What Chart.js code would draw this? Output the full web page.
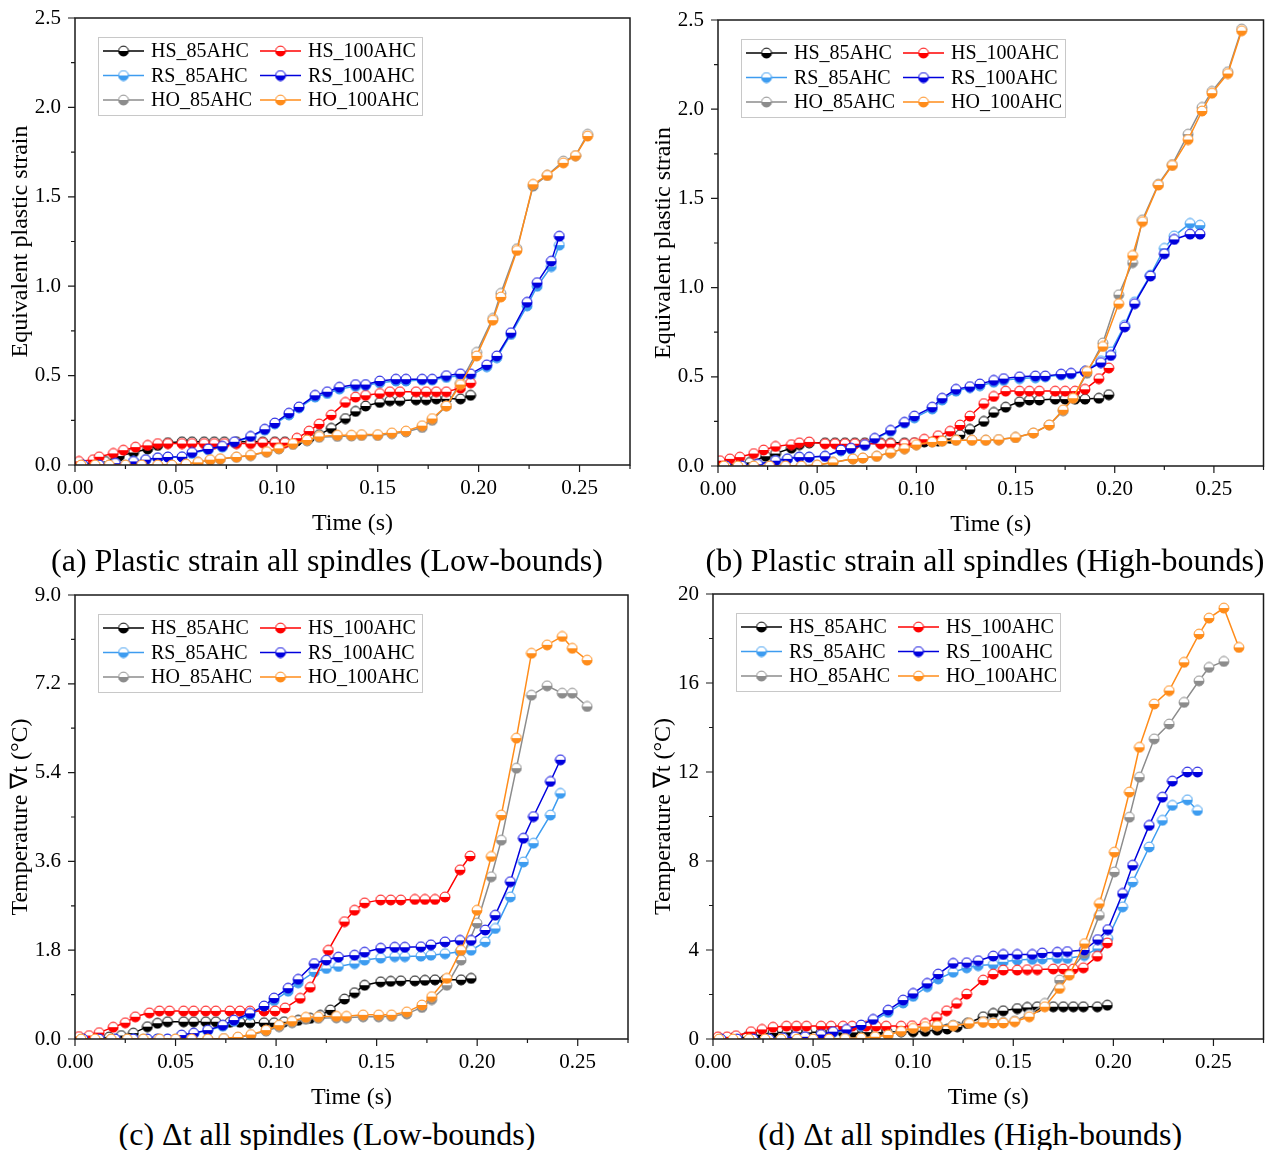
<!DOCTYPE html>
<html>
<head>
<meta charset="utf-8">
<script src="https://cdn.jsdelivr.net/npm/chart.js@4.4.1/dist/chart.umd.min.js"></script>
<style>
  body { margin: 0; background: #fff; width: 1271px; height: 1150px; position: relative; overflow: hidden; font-family: "Liberation Serif", "Times New Roman", serif; }
  canvas { position: absolute; }
  .cap { position: absolute; font-size: 32px; white-space: nowrap; transform: translate(-50%, -50%); color: #000; }
</style>
</head>
<body>
<canvas id="chartA" width="640" height="540" style="left:0;top:0"></canvas>
<canvas id="chartB" width="628" height="541" style="left:643px;top:0"></canvas>
<canvas id="chartC" width="640" height="537" style="left:0;top:577px"></canvas>
<canvas id="chartD" width="628" height="537" style="left:643px;top:577px"></canvas>
<div class="cap" style="left:327px;top:560px">(a) Plastic strain all spindles (Low-bounds)</div>
<div class="cap" style="left:985px;top:560px">(b) Plastic strain all spindles (High-bounds)</div>
<div class="cap" style="left:327px;top:1134px">(c) Δt all spindles (Low-bounds)</div>
<div class="cap" style="left:970px;top:1134px">(d) Δt all spindles (High-bounds)</div>

<script>
// series names / colours, same for every panel
const seriesNames = ['HS_85AHC', 'HS_100AHC', 'RS_85AHC', 'RS_100AHC', 'HO_85AHC', 'HO_100AHC'];
const seriesColors = ['#000000', '#ff0000', '#3d9cf0', '#0000dd', '#8c8c8c', '#ff8c1a'];

const timeTicks = [0, 0.05, 0.10, 0.15, 0.20, 0.25];
const strainTicks = [0, 0.5, 1.0, 1.5, 2.0, 2.5];
const tempTicksLow = [0, 1.8, 3.6, 5.4, 7.2, 9.0];
const tempTicksHigh = [0, 4, 8, 12, 16, 20];

// (a) plastic strain, low bounds  [time, value]
const a_HS85 = [[0.003,0.0],[0.009,0.01],[0.015,0.02],[0.022,0.05],[0.029,0.07],[0.036,0.09],[0.041,0.11],[0.046,0.125],[0.053,0.13],[0.058,0.13],[0.064,0.13],[0.069,0.13],[0.074,0.13],[0.080,0.13],[0.087,0.13],[0.093,0.13],[0.099,0.13],[0.104,0.13],[0.110,0.135],[0.116,0.15],[0.121,0.17],[0.127,0.205],[0.134,0.26],[0.139,0.30],[0.144,0.33],[0.151,0.35],[0.156,0.36],[0.161,0.36],[0.169,0.365],[0.174,0.365],[0.179,0.37],[0.184,0.37],[0.191,0.37],[0.196,0.39]];
const a_HS100 = [[0.002,0.02],[0.009,0.03],[0.012,0.046],[0.019,0.065],[0.024,0.083],[0.030,0.10],[0.036,0.11],[0.041,0.12],[0.046,0.12],[0.053,0.12],[0.058,0.12],[0.064,0.12],[0.069,0.12],[0.074,0.12],[0.080,0.12],[0.087,0.12],[0.093,0.125],[0.099,0.125],[0.104,0.125],[0.110,0.15],[0.116,0.19],[0.121,0.23],[0.127,0.28],[0.134,0.35],[0.139,0.38],[0.144,0.39],[0.151,0.40],[0.156,0.41],[0.161,0.41],[0.169,0.41],[0.174,0.41],[0.179,0.41],[0.184,0.41],[0.191,0.43],[0.196,0.46]];
const a_RS85 = [[0.004,0.0],[0.012,0.0],[0.020,0.01],[0.029,0.02],[0.035,0.03],[0.041,0.04],[0.046,0.045],[0.053,0.045],[0.058,0.065],[0.066,0.085],[0.073,0.10],[0.079,0.125],[0.087,0.155],[0.094,0.195],[0.099,0.23],[0.106,0.28],[0.111,0.32],[0.119,0.38],[0.125,0.40],[0.131,0.425],[0.139,0.44],[0.144,0.445],[0.151,0.46],[0.159,0.47],[0.164,0.47],[0.172,0.475],[0.177,0.475],[0.184,0.49],[0.191,0.50],[0.196,0.50],[0.204,0.55],[0.209,0.60],[0.216,0.73],[0.224,0.89],[0.229,1.00],[0.236,1.11],[0.240,1.23]];
const a_RS100 = [[0.004,0.0],[0.012,0.0],[0.020,0.01],[0.029,0.02],[0.035,0.03],[0.041,0.04],[0.046,0.045],[0.053,0.046],[0.058,0.07],[0.066,0.09],[0.073,0.105],[0.079,0.13],[0.087,0.16],[0.094,0.20],[0.099,0.235],[0.106,0.29],[0.111,0.325],[0.119,0.39],[0.125,0.41],[0.131,0.435],[0.139,0.45],[0.144,0.45],[0.151,0.47],[0.159,0.48],[0.164,0.48],[0.172,0.48],[0.177,0.48],[0.184,0.50],[0.191,0.51],[0.196,0.51],[0.204,0.56],[0.209,0.61],[0.216,0.74],[0.224,0.91],[0.229,1.02],[0.236,1.14],[0.240,1.28]];
const a_HO85 = [[0.003,0.0],[0.010,0.0],[0.017,0.0],[0.025,0.0],[0.033,0.0],[0.041,0.0],[0.048,0.0],[0.055,0.005],[0.061,0.015],[0.067,0.028],[0.072,0.033],[0.080,0.043],[0.087,0.053],[0.095,0.072],[0.101,0.09],[0.108,0.115],[0.115,0.135],[0.121,0.155],[0.130,0.16],[0.137,0.162],[0.142,0.165],[0.150,0.165],[0.157,0.175],[0.164,0.185],[0.172,0.21],[0.177,0.25],[0.184,0.33],[0.191,0.46],[0.199,0.63],[0.207,0.82],[0.211,0.96],[0.219,1.21],[0.227,1.56],[0.234,1.62],[0.242,1.70],[0.248,1.73],[0.254,1.85]];
const a_HO100 = [[0.003,0.0],[0.010,0.0],[0.017,0.0],[0.025,0.0],[0.033,0.0],[0.041,0.0],[0.048,0.0],[0.055,0.005],[0.061,0.015],[0.067,0.03],[0.072,0.035],[0.080,0.045],[0.087,0.055],[0.095,0.075],[0.101,0.093],[0.108,0.12],[0.115,0.14],[0.121,0.16],[0.130,0.167],[0.137,0.167],[0.142,0.17],[0.150,0.17],[0.157,0.18],[0.164,0.19],[0.172,0.22],[0.177,0.26],[0.184,0.33],[0.191,0.45],[0.199,0.61],[0.207,0.81],[0.211,0.94],[0.219,1.20],[0.227,1.57],[0.234,1.62],[0.242,1.69],[0.248,1.73],[0.254,1.84]];

// (b) plastic strain, high bounds
const b_HS85 = [[0.003,0.0],[0.009,0.01],[0.016,0.02],[0.024,0.055],[0.029,0.07],[0.037,0.10],[0.041,0.12],[0.046,0.13],[0.054,0.13],[0.059,0.13],[0.064,0.13],[0.069,0.13],[0.074,0.13],[0.082,0.13],[0.087,0.13],[0.094,0.13],[0.099,0.13],[0.104,0.135],[0.111,0.14],[0.117,0.155],[0.122,0.175],[0.127,0.205],[0.134,0.25],[0.139,0.30],[0.145,0.33],[0.152,0.36],[0.157,0.37],[0.162,0.37],[0.170,0.375],[0.175,0.375],[0.180,0.375],[0.185,0.375],[0.192,0.38],[0.197,0.40]];
const b_HS100 = [[0.001,0.03],[0.006,0.04],[0.011,0.05],[0.018,0.07],[0.023,0.09],[0.029,0.11],[0.037,0.12],[0.041,0.13],[0.046,0.135],[0.054,0.125],[0.059,0.125],[0.064,0.125],[0.069,0.125],[0.074,0.125],[0.082,0.125],[0.087,0.125],[0.094,0.125],[0.099,0.13],[0.104,0.15],[0.111,0.17],[0.117,0.195],[0.122,0.23],[0.127,0.28],[0.134,0.35],[0.139,0.39],[0.145,0.42],[0.152,0.42],[0.157,0.42],[0.162,0.42],[0.170,0.42],[0.175,0.42],[0.180,0.42],[0.185,0.43],[0.192,0.49],[0.197,0.55]];
const b_RS85 = [[0.004,0.0],[0.012,0.0],[0.020,0.01],[0.029,0.03],[0.035,0.04],[0.041,0.05],[0.046,0.05],[0.054,0.055],[0.062,0.085],[0.067,0.095],[0.074,0.115],[0.079,0.15],[0.087,0.195],[0.094,0.24],[0.099,0.27],[0.108,0.32],[0.113,0.37],[0.120,0.42],[0.127,0.44],[0.132,0.45],[0.139,0.47],[0.144,0.48],[0.152,0.49],[0.160,0.495],[0.165,0.50],[0.173,0.51],[0.178,0.515],[0.185,0.53],[0.193,0.59],[0.198,0.64],[0.205,0.79],[0.210,0.92],[0.218,1.07],[0.225,1.22],[0.230,1.29],[0.238,1.36],[0.243,1.35]];
const b_RS100 = [[0.004,0.0],[0.012,0.0],[0.020,0.01],[0.029,0.03],[0.035,0.04],[0.041,0.05],[0.046,0.05],[0.054,0.055],[0.062,0.09],[0.067,0.10],[0.074,0.12],[0.079,0.155],[0.087,0.20],[0.094,0.245],[0.099,0.28],[0.108,0.33],[0.113,0.38],[0.120,0.43],[0.127,0.445],[0.132,0.46],[0.139,0.48],[0.144,0.49],[0.152,0.50],[0.160,0.505],[0.165,0.505],[0.173,0.515],[0.178,0.52],[0.185,0.53],[0.193,0.58],[0.198,0.62],[0.205,0.78],[0.210,0.91],[0.218,1.065],[0.225,1.19],[0.230,1.27],[0.238,1.30],[0.243,1.30]];
const b_HO85 = [[0.003,0.0],[0.010,0.0],[0.018,0.0],[0.026,0.0],[0.034,0.0],[0.042,0.0],[0.050,0.005],[0.058,0.02],[0.068,0.04],[0.073,0.045],[0.080,0.055],[0.087,0.075],[0.094,0.098],[0.100,0.12],[0.108,0.135],[0.113,0.14],[0.120,0.145],[0.128,0.145],[0.135,0.145],[0.1415,0.148],[0.150,0.16],[0.159,0.185],[0.167,0.23],[0.174,0.31],[0.179,0.38],[0.186,0.52],[0.194,0.69],[0.202,0.96],[0.209,1.14],[0.214,1.38],[0.222,1.58],[0.229,1.69],[0.237,1.86],[0.244,2.01],[0.249,2.10],[0.257,2.21],[0.264,2.45]];
const b_HO100 = [[0.003,0.0],[0.010,0.0],[0.018,0.0],[0.026,0.0],[0.034,0.0],[0.042,0.0],[0.050,0.005],[0.058,0.02],[0.068,0.04],[0.073,0.045],[0.080,0.055],[0.087,0.075],[0.094,0.098],[0.100,0.12],[0.108,0.135],[0.113,0.14],[0.120,0.145],[0.128,0.145],[0.135,0.145],[0.1415,0.148],[0.150,0.16],[0.159,0.185],[0.167,0.23],[0.174,0.315],[0.179,0.38],[0.186,0.53],[0.194,0.67],[0.202,0.91],[0.209,1.18],[0.214,1.37],[0.222,1.575],[0.229,1.685],[0.237,1.83],[0.244,1.99],[0.249,2.09],[0.257,2.20],[0.264,2.44]];

// (c) temperature rise, low bounds
const c_HS85 = [[0.003,0.0],[0.010,0.02],[0.017,0.04],[0.023,0.07],[0.029,0.12],[0.036,0.25],[0.041,0.32],[0.046,0.35],[0.054,0.35],[0.059,0.35],[0.065,0.35],[0.070,0.35],[0.077,0.34],[0.082,0.34],[0.087,0.33],[0.094,0.33],[0.099,0.33],[0.104,0.35],[0.111,0.38],[0.117,0.42],[0.122,0.48],[0.127,0.59],[0.134,0.81],[0.139,0.94],[0.144,1.09],[0.152,1.16],[0.157,1.17],[0.162,1.18],[0.169,1.18],[0.174,1.19],[0.179,1.20],[0.184,1.20],[0.192,1.20],[0.197,1.23]];
const c_HS100 = [[0.002,0.05],[0.007,0.07],[0.012,0.13],[0.019,0.24],[0.025,0.33],[0.030,0.45],[0.037,0.53],[0.042,0.57],[0.047,0.57],[0.054,0.57],[0.059,0.57],[0.065,0.57],[0.070,0.57],[0.077,0.57],[0.082,0.57],[0.087,0.57],[0.094,0.57],[0.0995,0.57],[0.1045,0.63],[0.112,0.825],[0.117,1.05],[0.126,1.80],[0.134,2.38],[0.139,2.61],[0.144,2.76],[0.152,2.82],[0.157,2.82],[0.162,2.82],[0.169,2.83],[0.174,2.83],[0.179,2.83],[0.184,2.88],[0.1915,3.43],[0.1965,3.71]];
const c_RS85 = [[0.004,0.0],[0.012,0.0],[0.020,0.0],[0.029,0.0],[0.036,0.0],[0.041,0.0],[0.046,0.0],[0.053,0.07],[0.059,0.11],[0.066,0.17],[0.0735,0.26],[0.079,0.36],[0.087,0.49],[0.094,0.63],[0.099,0.78],[0.106,0.97],[0.111,1.14],[0.119,1.36],[0.125,1.43],[0.131,1.47],[0.139,1.53],[0.144,1.60],[0.152,1.64],[0.159,1.67],[0.164,1.67],[0.172,1.68],[0.177,1.70],[0.184,1.73],[0.1915,1.77],[0.197,1.80],[0.204,1.97],[0.209,2.24],[0.2165,2.88],[0.223,3.59],[0.228,3.97],[0.2364,4.54],[0.2414,4.98]];
const c_RS100 = [[0.004,0.0],[0.012,0.0],[0.020,0.0],[0.029,0.0],[0.036,0.0],[0.041,0.0],[0.046,0.0],[0.053,0.08],[0.059,0.12],[0.066,0.18],[0.0735,0.28],[0.079,0.385],[0.087,0.52],[0.094,0.67],[0.099,0.83],[0.106,1.03],[0.111,1.21],[0.119,1.53],[0.125,1.60],[0.131,1.66],[0.139,1.70],[0.144,1.76],[0.152,1.84],[0.159,1.86],[0.164,1.86],[0.172,1.87],[0.177,1.91],[0.184,1.97],[0.1915,2.0],[0.197,2.0],[0.204,2.21],[0.209,2.51],[0.2165,3.19],[0.223,4.07],[0.228,4.51],[0.2364,5.22],[0.2414,5.66]];
const c_HO85 = [[0.003,0.0],[0.010,0.0],[0.018,0.0],[0.026,0.0],[0.034,0.0],[0.042,0.0],[0.050,0.0],[0.058,0.0],[0.066,0.0],[0.074,0.01],[0.081,0.03],[0.0875,0.08],[0.095,0.16],[0.1015,0.25],[0.108,0.33],[0.1148,0.40],[0.121,0.42],[0.130,0.43],[0.135,0.43],[0.1433,0.45],[0.151,0.45],[0.1574,0.46],[0.165,0.51],[0.1725,0.64],[0.1774,0.80],[0.1849,1.09],[0.192,1.60],[0.1999,2.35],[0.207,3.29],[0.212,4.03],[0.2195,5.49],[0.227,6.97],[0.2348,7.16],[0.2423,7.01],[0.2473,7.01],[0.2547,6.74]];
const c_HO100 = [[0.003,0.0],[0.010,0.0],[0.018,0.0],[0.026,0.0],[0.034,0.0],[0.042,0.0],[0.050,0.0],[0.058,0.0],[0.066,0.0],[0.074,0.01],[0.081,0.04],[0.0875,0.09],[0.095,0.18],[0.1015,0.28],[0.108,0.36],[0.1148,0.44],[0.121,0.45],[0.130,0.46],[0.135,0.46],[0.1433,0.49],[0.151,0.49],[0.1574,0.49],[0.165,0.55],[0.1725,0.69],[0.1774,0.86],[0.1849,1.23],[0.192,1.80],[0.1999,2.61],[0.207,3.70],[0.212,4.54],[0.2195,6.10],[0.227,7.82],[0.2348,7.99],[0.2423,8.16],[0.2473,7.92],[0.2547,7.68]];

// (d) temperature rise, high bounds
const d_HS85 = [[0.003,0.0],[0.010,0.05],[0.017,0.1],[0.024,0.2],[0.030,0.28],[0.037,0.30],[0.042,0.30],[0.047,0.30],[0.054,0.30],[0.059,0.30],[0.065,0.30],[0.070,0.30],[0.077,0.31],[0.082,0.32],[0.087,0.32],[0.094,0.33],[0.100,0.33],[0.106,0.35],[0.112,0.40],[0.117,0.45],[0.122,0.55],[0.127,0.70],[0.135,1.00],[0.140,1.15],[0.145,1.27],[0.152,1.37],[0.157,1.42],[0.162,1.45],[0.170,1.45],[0.175,1.45],[0.180,1.45],[0.185,1.45],[0.192,1.45],[0.197,1.52]];
const d_HS100 = [[0.0025,0.1],[0.007,0.1],[0.0115,0.15],[0.019,0.33],[0.0245,0.43],[0.030,0.53],[0.0367,0.58],[0.0417,0.58],[0.0467,0.58],[0.054,0.58],[0.059,0.58],[0.065,0.58],[0.0695,0.58],[0.0765,0.58],[0.0815,0.58],[0.0865,0.58],[0.094,0.58],[0.0995,0.60],[0.106,0.70],[0.1117,0.97],[0.1167,1.27],[0.1217,1.60],[0.1267,2.02],[0.135,2.65],[0.140,2.92],[0.145,3.10],[0.152,3.10],[0.157,3.12],[0.162,3.12],[0.170,3.15],[0.175,3.15],[0.180,3.15],[0.185,3.20],[0.192,3.72],[0.197,4.32]];
const d_RS85 = [[0.004,0.0],[0.012,0.0],[0.020,0.0],[0.028,0.0],[0.035,0.04],[0.041,0.08],[0.046,0.09],[0.054,0.18],[0.060,0.30],[0.0667,0.40],[0.074,0.58],[0.080,0.82],[0.0875,1.20],[0.095,1.62],[0.100,1.92],[0.107,2.35],[0.1125,2.70],[0.120,3.0],[0.1267,3.2],[0.1325,3.3],[0.140,3.35],[0.145,3.47],[0.152,3.55],[0.1595,3.58],[0.1645,3.60],[0.172,3.62],[0.177,3.62],[0.1855,3.75],[0.1922,4.07],[0.1972,4.52],[0.2046,5.94],[0.2096,7.06],[0.2179,8.63],[0.2245,9.83],[0.2295,10.5],[0.237,10.75],[0.242,10.27]];
const d_RS100 = [[0.004,0.0],[0.012,0.0],[0.020,0.0],[0.028,0.0],[0.035,0.05],[0.041,0.1],[0.046,0.1],[0.054,0.2],[0.060,0.33],[0.0667,0.43],[0.074,0.63],[0.080,0.88],[0.0875,1.30],[0.095,1.75],[0.100,2.05],[0.107,2.5],[0.1125,2.92],[0.120,3.40],[0.1267,3.43],[0.1325,3.52],[0.140,3.73],[0.145,3.80],[0.152,3.80],[0.1595,3.80],[0.1645,3.87],[0.172,3.90],[0.177,3.93],[0.1855,4.0],[0.1922,4.47],[0.1972,4.92],[0.2046,6.54],[0.2096,7.81],[0.2179,9.6],[0.2245,10.87],[0.2295,11.59],[0.237,12.0],[0.242,12.0]];
const d_HO85 = [[0.003,0.0],[0.010,0.0],[0.018,0.0],[0.026,0.0],[0.034,0.0],[0.042,0.0],[0.050,0.0],[0.058,0.0],[0.066,0.02],[0.074,0.05],[0.081,0.1],[0.0875,0.2],[0.094,0.38],[0.100,0.5],[0.106,0.58],[0.112,0.62],[0.120,0.63],[0.128,0.72],[0.135,0.78],[0.140,0.76],[0.145,0.75],[0.1507,0.82],[0.158,1.1],[0.1657,1.6],[0.1731,2.65],[0.178,3.02],[0.1856,3.85],[0.193,5.56],[0.2005,7.51],[0.208,9.97],[0.213,11.77],[0.2204,13.49],[0.2279,14.16],[0.2353,15.13],[0.2428,16.1],[0.2478,16.7],[0.2552,16.97]];
const d_HO100 = [[0.003,0.0],[0.010,0.0],[0.018,0.0],[0.026,0.0],[0.034,0.0],[0.042,0.0],[0.050,0.0],[0.058,0.0],[0.066,0.02],[0.074,0.05],[0.081,0.1],[0.0875,0.18],[0.094,0.35],[0.100,0.48],[0.106,0.56],[0.112,0.6],[0.120,0.6],[0.128,0.7],[0.135,0.75],[0.140,0.72],[0.145,0.72],[0.1507,0.78],[0.158,1.0],[0.1657,1.45],[0.1731,2.27],[0.178,2.87],[0.1856,4.29],[0.193,6.09],[0.2005,8.40],[0.208,11.1],[0.213,13.11],[0.2204,15.06],[0.2279,15.66],[0.2353,16.93],[0.2428,18.2],[0.2478,18.92],[0.2552,19.37],[0.2627,17.6]];

const FONT = '"Liberation Serif", "Times New Roman", serif';

// half filled circle marker: white top, coloured bottom
function halfDot(color) {
  const c = document.createElement('canvas');
  c.width = 12; c.height = 12;
  const g = c.getContext('2d');
  g.fillStyle = '#fff';
  g.beginPath(); g.arc(6, 6, 5.2, 0, Math.PI * 2); g.fill();
  g.fillStyle = color;
  g.beginPath(); g.arc(6, 6, 5.2, 0, Math.PI); g.closePath(); g.fill();
  g.strokeStyle = color; g.lineWidth = 1;
  g.beginPath(); g.arc(6, 6, 4.9, 0, Math.PI * 2); g.stroke();
  return c;
}
const markers = seriesColors.map(halfDot);

// frame, outward major/minor ticks and boxed legend
const frameAndLegend = {
  id: 'frameAndLegend',
  afterDraw(chart) {
    const { ctx, chartArea: a, scales: { x, y } } = chart;
    ctx.save();
    ctx.strokeStyle = '#1a1a1a';
    ctx.lineWidth = 1.5;
    ctx.strokeRect(a.left, a.top, a.right - a.left, a.bottom - a.top);

    ctx.lineWidth = 1.2;
    ctx.beginPath();
    const xv = x.ticks.map(t => t.value);
    xv.forEach((v, i) => {
      const px = x.getPixelForValue(v);
      ctx.moveTo(px, a.bottom); ctx.lineTo(px, a.bottom + 7);
      const mid = i < xv.length - 1 ? (v + xv[i + 1]) / 2 : v + (v - xv[i - 1]) / 2;
      if (mid <= x.max + 1e-9) {
        const pm = x.getPixelForValue(mid);
        ctx.moveTo(pm, a.bottom); ctx.lineTo(pm, a.bottom + 4);
      }
    });
    const yv = y.ticks.map(t => t.value);
    yv.forEach((v, i) => {
      const py = y.getPixelForValue(v);
      ctx.moveTo(a.left, py); ctx.lineTo(a.left - 7, py);
      if (i < yv.length - 1) {
        const pm = y.getPixelForValue((v + yv[i + 1]) / 2);
        ctx.moveTo(a.left, pm); ctx.lineTo(a.left - 4, pm);
      }
    });
    ctx.stroke();

    // legend box
    const bx = a.left + 23, by = a.top + 19, bw = 324, bh = 78;
    ctx.fillStyle = '#fff';
    ctx.fillRect(bx, by, bw, bh);
    ctx.strokeStyle = '#c8c8c8';
    ctx.lineWidth = 1;
    ctx.strokeRect(bx + 0.5, by + 0.5, bw, bh);
    ctx.font = '20px ' + FONT;
    ctx.textBaseline = 'middle';
    ctx.fillStyle = '#000';
    seriesNames.forEach((name, i) => {
      const col = i % 2, row = Math.floor(i / 2);
      const lx = bx + 5 + col * 157;
      const ly = by + 14 + row * 24.5;
      ctx.strokeStyle = seriesColors[i];
      ctx.lineWidth = 1.6;
      ctx.beginPath(); ctx.moveTo(lx, ly); ctx.lineTo(lx + 41, ly); ctx.stroke();
      ctx.drawImage(markers[i], lx + 20.5 - 6, ly - 6);
      ctx.fillText(name, lx + 48, ly + 1);
    });
    ctx.restore();
  }
};

function makeChart(id, series, yMax, yTicks, yDigits, yTitle, geom) {
  // draw order: first dataset ends up on top
  const drawOrder = [5, 3, 1, 4, 2, 0];
  const datasets = drawOrder.map(i => ({
    label: seriesNames[i],
    data: series[i].map(p => ({ x: p[0], y: p[1] })),
    borderColor: seriesColors[i],
    backgroundColor: seriesColors[i],
    borderWidth: 1.5,
    tension: 0,
    pointStyle: markers[i],
    pointRadius: 6
  }));
  new Chart(document.getElementById(id), {
    type: 'line',
    data: { datasets },
    options: {
      responsive: false,
      animation: false,
      events: [],
      layout: { padding: { left: 0, top: geom.top, right: geom.right, bottom: 0 } },
      plugins: { legend: { display: false }, tooltip: { enabled: false } },
      scales: {
        x: {
          type: 'linear', min: 0, max: 0.275,
          afterBuildTicks: s => { s.ticks = timeTicks.map(v => ({ value: v })); },
          afterFit: s => { s.height = 75; s.paddingLeft = 0; s.paddingRight = 0; },
          grid: { display: false, drawTicks: false },
          border: { display: false },
          ticks: { callback: v => v.toFixed(2), color: '#000', font: { family: FONT, size: 21 }, padding: 11, maxRotation: 0 },
          title: { display: true, text: 'Time (s)', color: '#000', font: { family: FONT, size: 24 }, padding: { top: 2, bottom: 2 } }
        },
        y: {
          type: 'linear', min: 0, max: yMax,
          afterBuildTicks: s => { s.ticks = yTicks.map(v => ({ value: v })); },
          afterFit: s => { s.width = geom.yWidth; s.paddingTop = 0; s.paddingBottom = 0; },
          grid: { display: false, drawTicks: false },
          border: { display: false },
          ticks: { callback: v => v.toFixed(yDigits), color: '#000', font: { family: FONT, size: 21 }, padding: 14 },
          title: { display: true, text: yTitle, color: '#000', font: { family: FONT, size: 24 }, padding: { top: 6, bottom: 6 } }
        }
      }
    },
    plugins: [frameAndLegend]
  });
}

makeChart('chartA', [a_HS85, a_HS100, a_RS85, a_RS100, a_HO85, a_HO100], 2.5, strainTicks, 1,
  'Equivalent plastic strain', { top: 18, right: 10, yWidth: 75 });
makeChart('chartB', [b_HS85, b_HS100, b_RS85, b_RS100, b_HO85, b_HO100], 2.5, strainTicks, 1,
  'Equivalent plastic strain', { top: 20, right: 3, yWidth: 75 });
makeChart('chartC', [c_HS85, c_HS100, c_RS85, c_RS100, c_HO85, c_HO100], 9.0, tempTicksLow, 1,
  'Temperature \u2207t (\u00B0C)', { top: 18, right: 12, yWidth: 75 });
makeChart('chartD', [d_HS85, d_HS100, d_RS85, d_RS100, d_HO85, d_HO100], 20, tempTicksHigh, 0,
  'Temperature \u2207t (\u00B0C)', { top: 17, right: 3, yWidth: 70 });
</script>
</body>
</html>
